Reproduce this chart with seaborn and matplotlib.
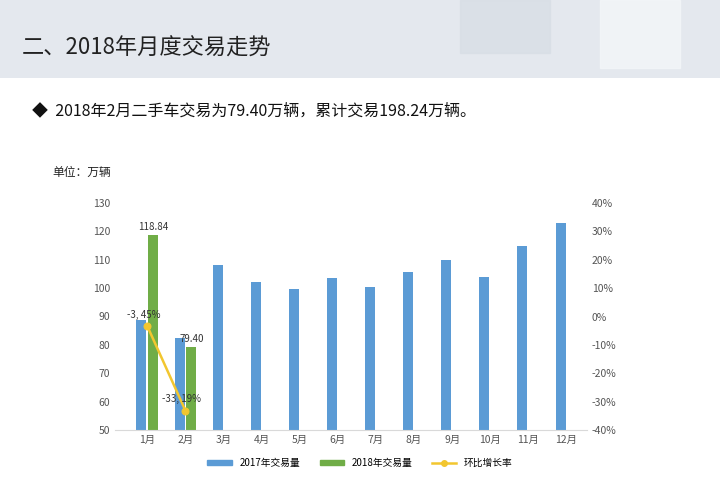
import matplotlib
matplotlib.use("Agg")
import matplotlib.pyplot as plt
import seaborn as sns
import numpy as np
import pandas as pd
from matplotlib.lines import Line2D
from matplotlib.patches import Patch

plt.rcParams["font.family"] = ["Noto Sans CJK SC"]

months = ["1月","2月","3月","4月","5月","6月","7月","8月","9月","10月","11月","12月"]
sales_2017 = [88.9, 82.5, 108.0, 102.0, 99.6, 103.4, 100.3, 105.8, 109.8, 103.8, 114.7, 123.1]
sales_2018 = [118.84, 79.40]
mom_rate = [-3.45, -33.19]

df = pd.DataFrame({
    "month": months * 2,
    "series": ["2017年交易量"] * 12 + ["2018年交易量"] * 12,
    "value": sales_2017 + sales_2018 + [np.nan] * 10,
})

blue = "#5B9BD5"; green = "#70AD47"; yellow = "#F2C62F"

fig = plt.figure(figsize=(7.2, 4.91), dpi=100)
hdr = fig.add_axes([0, 1 - 78/491, 1, 78/491])
hdr.set_xlim(0, 720); hdr.set_ylim(0, 78); hdr.axis("off")
hdr.add_patch(plt.Rectangle((0, 0), 720, 78, color="#E4E8EE"))
grad = np.linspace(0, 1, 200)[None, :]
hdr.imshow(grad, extent=(430, 720, 0, 78), cmap="Blues", vmin=-0.3, vmax=1.6, aspect="auto")
hdr.add_patch(plt.Rectangle((600, 10), 80, 68, color="#F4F6F9", alpha=0.8))
hdr.add_patch(plt.Rectangle((460, 25), 90, 53, color="#D8DEE6", alpha=0.8))
hdr.text(22, 30, "二、2018年月度交易走势", fontsize=16, color="#222222", va="center")

fig.text(32/720, 1 - 111/491, "◆  2018年2月二手车交易为79.40万辆，累计交易198.24万辆。", fontsize=11.5, va="center", color="#111111")
fig.text(52/720, 1 - 172/491, "单位：万辆", fontsize=8.5, va="center", color="#222222")

ax = fig.add_axes([115/720, 1 - 430/491, (587-115)/720, (430-203)/491])
sns.barplot(data=df, x="month", y="value", hue="series", palette=[blue, green],
            ax=ax, width=0.62, gap=0.15, saturation=1, legend=False)
ax.set_ylim(50, 130)
ax.set_yticks(range(50, 131, 10))
ax.set_xlabel(""); ax.set_ylabel("")
for s in ["top", "right", "left"]:
    ax.spines[s].set_visible(False)
ax.spines["bottom"].set_color("#D9D9D9")
ax.tick_params(length=0, labelsize=7.5, colors="#555555")
for c in ax.containers[1:]:
    labs = [f"{v:.2f}" if not np.isnan(v) else "" for v in c.datavalues]
    ax.bar_label(c, labels=labs, fontsize=7, padding=2, color="#333333")

ax2 = ax.twinx()
ax2.set_ylim(-40, 40)
ax2.set_yticks(range(-40, 41, 10))
ax2.set_yticklabels([f"{t}%" for t in range(-40, 41, 10)])
for s in ax2.spines.values():
    s.set_visible(False)
ax2.tick_params(length=0, labelsize=7.5, colors="#555555")
sns.lineplot(x=[0, 1], y=mom_rate, ax=ax2, color=yellow, marker="o", markersize=5,
             linewidth=1.8, markeredgecolor=yellow)
for i, v in enumerate(mom_rate):
    ax2.text(i - 0.1, v + 3, f"{v:.2f}%".replace(".", ", "), fontsize=7, ha="center", color="#333333")

handles = [Patch(color=blue), Patch(color=green),
           Line2D([0], [0], color=yellow, marker="o", markersize=4, linewidth=1.8)]
fig.legend(handles, ["2017年交易量", "2018年交易量", "环比增长率"], loc="center",
           bbox_to_anchor=(360/720, 1 - 463/491), ncol=3, frameon=False, fontsize=7,
           handlelength=2.5, handleheight=0.5, columnspacing=2)

fig.savefig("out.png", dpi=100, facecolor="white")
